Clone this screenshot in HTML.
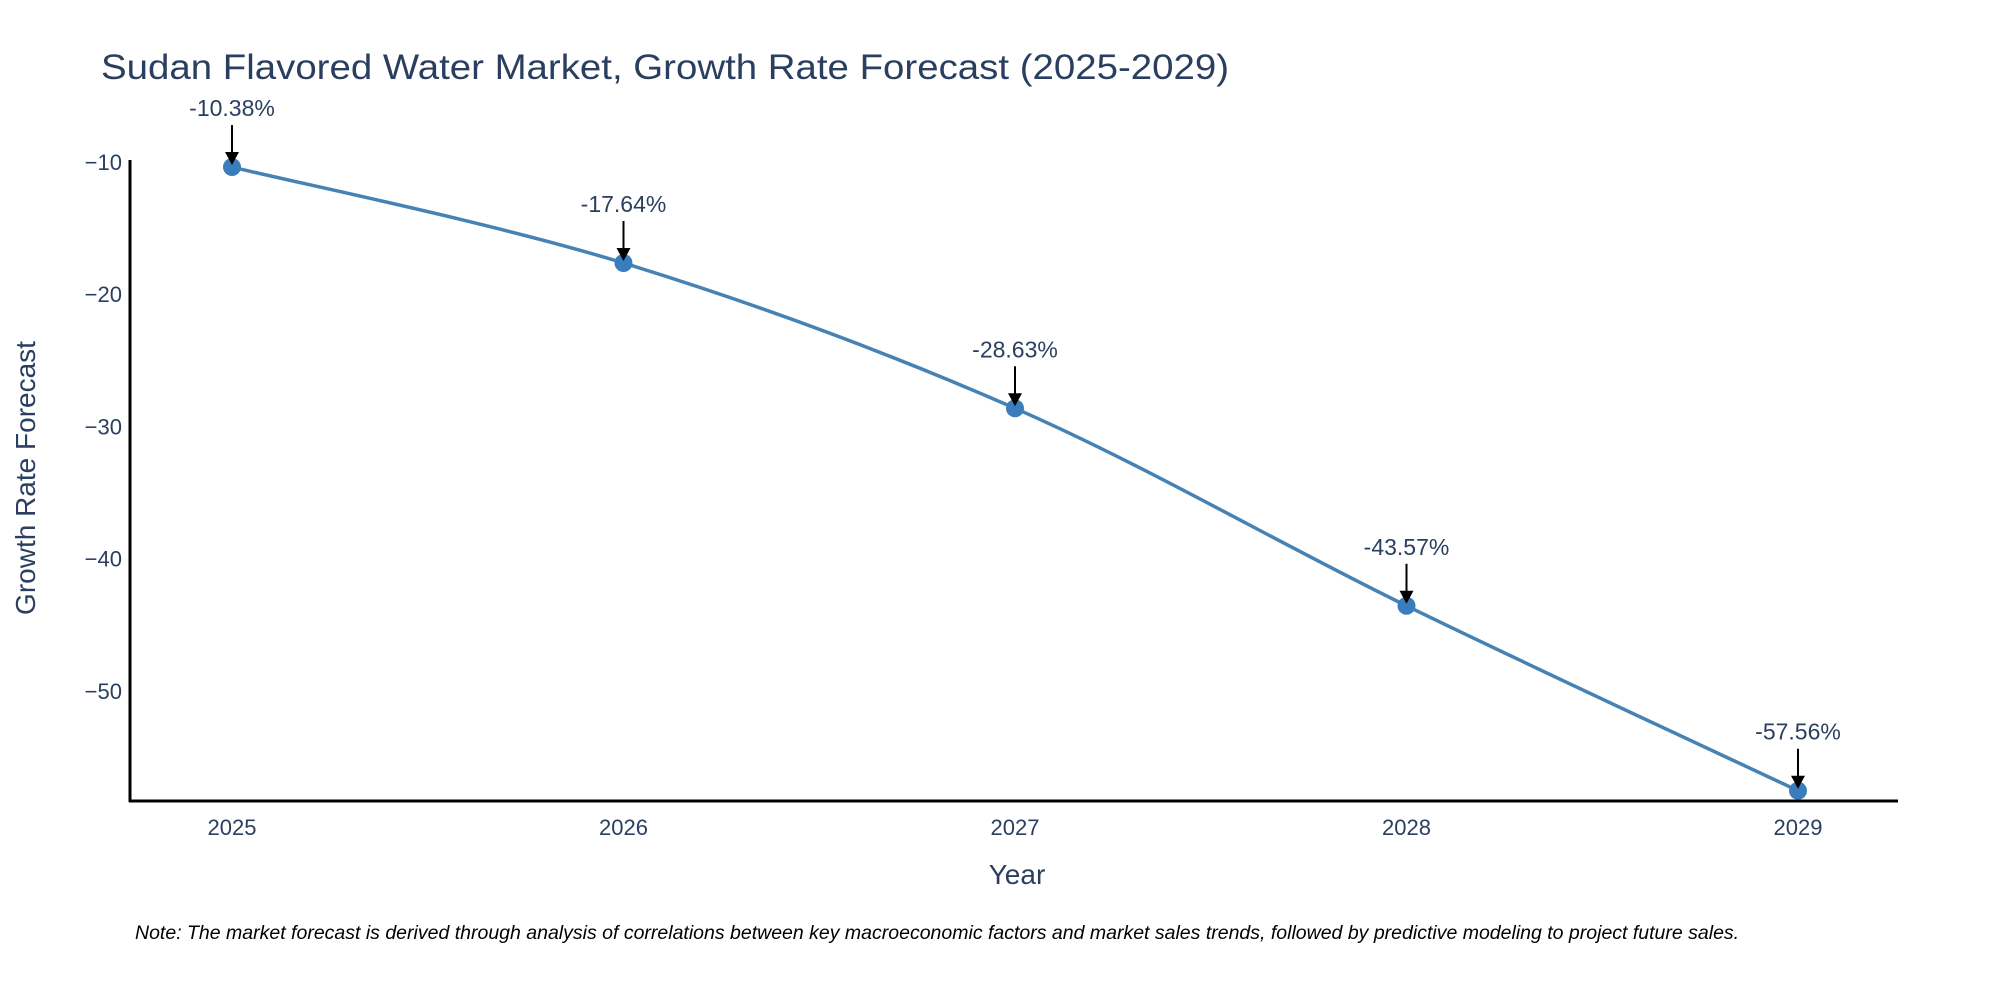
<!DOCTYPE html>
<html><head><meta charset="utf-8"><style>
html,body{margin:0;padding:0;background:#fff;}
svg{display:block;font-family:"Liberation Sans","DejaVu Sans",sans-serif;}
</style></head><body>
<svg id="chart" width="2000" height="1000" viewBox="0 0 2000 1000" xmlns="http://www.w3.org/2000/svg">
<rect width="2000" height="1000" fill="#fff"/>
<text x="101" y="79" font-size="35" fill="#2a3f5f" textLength="1128" lengthAdjust="spacingAndGlyphs">Sudan Flavored Water Market, Growth Rate Forecast (2025-2029)</text>
<g id="yticks"></g><g id="xticks"></g>
<line x1="130" y1="160" x2="130" y2="802" stroke="#000" stroke-width="3"/>
<line x1="129" y1="801" x2="1898" y2="801" stroke="#000" stroke-width="3"/>
<path id="series" fill="none" stroke="#4682b4" stroke-width="3.5"/>
<g id="points"></g><g id="annots"></g>
<text x="1017" y="884" font-size="28" fill="#2a3f5f" text-anchor="middle">Year</text>
<text transform="translate(35,478) rotate(-90)" font-size="28" fill="#2a3f5f" text-anchor="middle">Growth Rate Forecast</text>
<text x="135" y="939" font-size="19.5" font-style="italic" fill="#000">Note: The market forecast is derived through analysis of correlations between key macroeconomic factors and market sales trends, followed by predictive modeling to project future sales.</text>
</svg>
<script>
const years = [2025, 2026, 2027, 2028, 2029];
const values = [-10.38, -17.64, -28.63, -43.57, -57.56];
const labels = ["-10.38%", "-17.64%", "-28.63%", "-43.57%", "-57.56%"];
const yTicks = [-10, -20, -30, -40, -50];
const NS = "http://www.w3.org/2000/svg";
const xScale = v => 232 + (v - 2025) * 391.5;
const yScale = v => 162 + (-10 - v) * 13.22;
function mk(tag, attrs, parent, txt){const e=document.createElementNS(NS,tag);for(const k in attrs)e.setAttribute(k,attrs[k]);if(txt!==undefined)e.textContent=txt;parent.appendChild(e);return e;}
const yt=document.getElementById('yticks');
yTicks.forEach(t=>{const e=mk('text',{x:122,y:yScale(t)+8,'font-size':22,fill:'#2a3f5f','text-anchor':'end'},yt,'\u2212'+Math.abs(t));

});
const xt=document.getElementById('xticks');
years.forEach(y=>{const e=mk('text',{x:xScale(y),y:835,'font-size':22,fill:'#2a3f5f','text-anchor':'middle'},xt,String(y));

});
const pts=years.map((y,i)=>[xScale(y),yScale(values[i])]);
let d='M'+pts[0][0]+','+pts[0][1];
for(let i=0;i<pts.length-1;i++){const p0=pts[Math.max(0,i-1)],p1=pts[i],p2=pts[i+1],p3=pts[Math.min(pts.length-1,i+2)];const s=6;
d+=' C'+(p1[0]+(p2[0]-p0[0])/s)+','+(p1[1]+(p2[1]-p0[1])/s)+' '+(p2[0]-(p3[0]-p1[0])/s)+','+(p2[1]-(p3[1]-p1[1])/s)+' '+p2[0]+','+p2[1];}
document.getElementById('series').setAttribute('d',d);
const pg=document.getElementById('points'),ag=document.getElementById('annots');
pts.forEach((p,i)=>{const c=mk('circle',{cx:p[0],cy:p[1],r:9,fill:'#3a7dbd'},pg);


const l=mk('line',{x1:p[0],y1:p[1]-42,x2:p[0],y2:p[1]-14,stroke:'#000','stroke-width':2},ag);


const h=mk('polygon',{points:(p[0]-7)+','+(p[1]-15)+' '+(p[0]+7)+','+(p[1]-15)+' '+p[0]+','+(p[1]-2),fill:'#000'},ag);


const t=mk('text',{x:p[0],y:p[1]-51,'font-size':23,fill:'#2a3f5f','text-anchor':'middle'},ag,labels[i]);

});
</script>
</body></html>
